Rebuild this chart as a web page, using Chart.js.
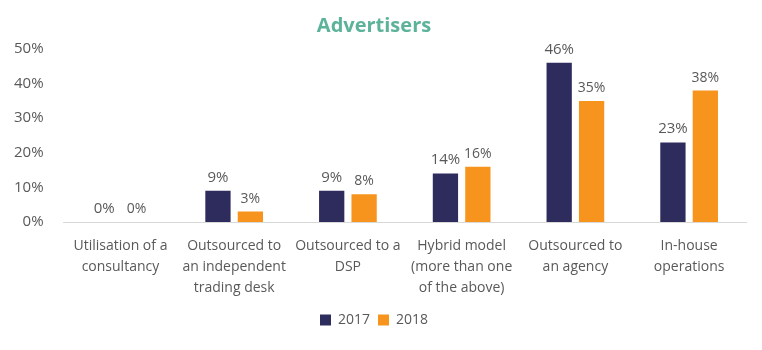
<!DOCTYPE html>
<html>
<head>
<meta charset="utf-8">
<script src="https://cdn.jsdelivr.net/npm/chart.js@4"></script>
<style>
  html, body { margin: 0; padding: 0; background: #fff; }
  #wrap { width: 762px; height: 350px; }
</style>
</head>
<body>
<div id="wrap"><canvas id="chart"></canvas></div>
<script>
const categories = [
    ['Utilisation of a', 'consultancy'],
    ['Outsourced to', 'an independent', 'trading desk'],
    ['Outsourced to a', 'DSP'],
    ['Hybrid model', '(more than one', 'of the above)'],
    ['Outsourced to', 'an agency'],
    ['In-house', 'operations'],
];

const data2017 = [0, 9, 9, 14, 46, 23];
const data2018 = [0, 3, 8, 16, 35, 38];

const yTicks = [0, 10, 20, 30, 40, 50];

const valueLabels = {
    id: 'valueLabels',
    afterDatasetsDraw(chart) {
        const ctx = chart.ctx;
        ctx.save();
        ctx.fillStyle = '#595959';
        ctx.textAlign = 'center';
        ctx.textBaseline = 'bottom';
        chart.data.datasets.forEach((ds, i) => {
            const meta = chart.getDatasetMeta(i);
            ctx.font = (i === 0 ? '15px' : '14px') + ' "Open Sans", sans-serif';
            meta.data.forEach((bar, j) => {
                ctx.fillText(ds.data[j] + '%', bar.x, bar.y - 6);
            });
        });
        ctx.restore();
    }
};

new Chart(document.getElementById('chart'), {
    type: 'bar',
    data: {
        labels: categories,
        datasets: [
            {
                label: '2017',
                data: data2017,
                backgroundColor: '#2e2c5c',
                categoryPercentage: 0.57,
                barPercentage: 0.78
            },
            {
                label: '2018',
                data: data2018,
                backgroundColor: '#f7941d',
                categoryPercentage: 0.57,
                barPercentage: 0.78
            }
        ]
    },
    options: {
        responsive: true,
        maintainAspectRatio: false,
        animation: false,
        layout: {
            padding: { left: 2, right: 16, top: 0, bottom: 13 }
        },
        plugins: {
            title: {
                display: true,
                text: 'Advertisers',
                color: '#5cb39a',
                font: { family: '"Open Sans", sans-serif', size: 20, weight: 'bold' },
                padding: { top: 14, bottom: 11 }
            },
            legend: {
                position: 'bottom',
                labels: {
                    color: '#595959',
                    boxWidth: 11,
                    boxHeight: 11,
                    padding: 8,
                    font: { family: '"Open Sans", sans-serif', size: 14 }
                }
            },
            tooltip: { enabled: false }
        },
        scales: {
            x: {
                grid: { display: false },
                border: { color: '#d9d9d9', width: 1 },
                ticks: {
                    color: '#595959',
                    autoSkip: false,
                    maxRotation: 0,
                    padding: 6,
                    font: { family: '"Open Sans", sans-serif', size: 14, lineHeight: 1.5 }
                }
            },
            y: {
                min: 0,
                max: 50,
                grid: { display: false },
                border: { display: false },
                afterBuildTicks(axis) {
                    axis.ticks = yTicks.map(v => ({ value: v }));
                },
                ticks: {
                    color: '#595959',
                    padding: 12,
                    font: { family: '"Open Sans", sans-serif', size: 15 },
                    callback: v => v + '%'
                }
            }
        }
    },
    plugins: [valueLabels]
});
</script>
</body>
</html>
